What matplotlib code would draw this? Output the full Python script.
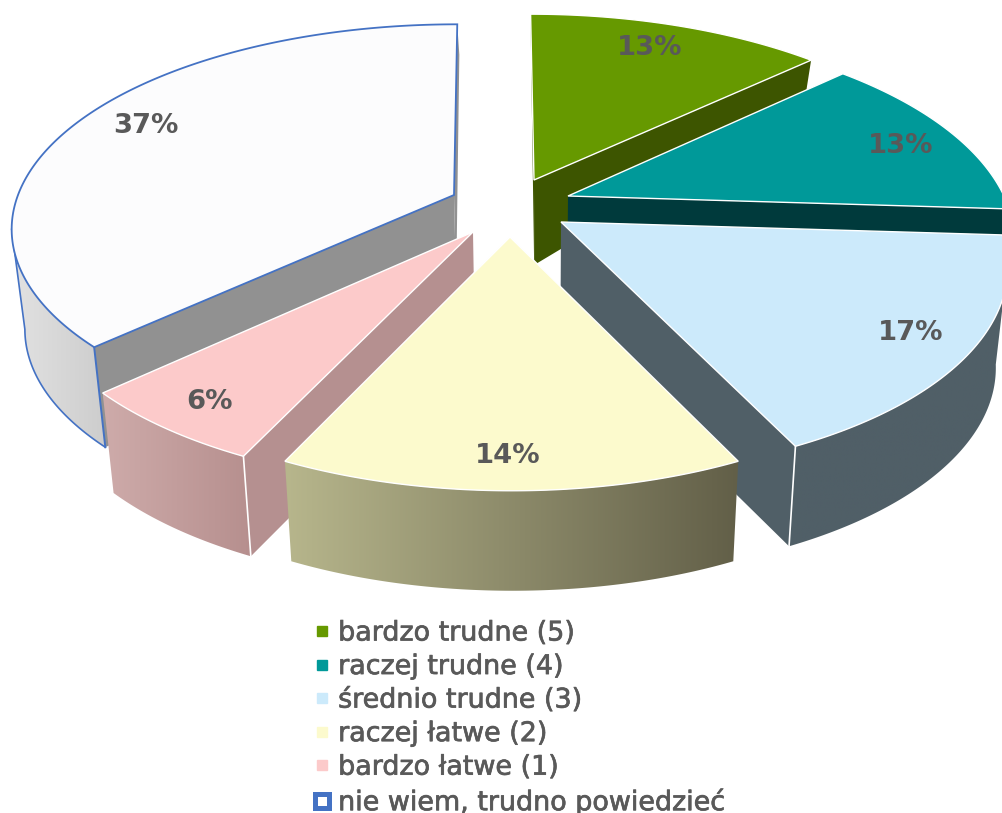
import numpy as np
import matplotlib
matplotlib.use("Agg")
import matplotlib.pyplot as plt
import matplotlib.patheffects as pe
from matplotlib.colors import LinearSegmentedColormap
from matplotlib.patches import Polygon
from matplotlib.lines import Line2D

categories = ["bardzo trudne (5)", "raczej trudne (4)", "średnio trudne (3)",
              "raczej łatwe (2)", "bardzo łatwe (1)", "nie wiem, trudno powiedzieć"]
values = [13, 13, 17, 14, 6, 37]

# styling / layout
top_colors = ["#669900", "#009999", "#CCEAFB", "#FCFACD", "#FCCACA", "#FCFCFD"]
side_colors = ["#3D5500", "#003A3C", "#505F67", "#6A6850", "#B59090", "#919191"]
rim_left = [None, None, "#505F67", "#B7B68C", "#CEABAA", "#E2E2E2"]
rim_right = [None, None, "#505F67", "#625F48", "#B68F8E", "#CDCDCD"]
edge_colors = ["white"] * 5 + ["#4472C4"]
apex = [(534, 180), (568, 196), (561, 222), (510, 237), (473, 232), (454, 195)]
label_pos = [(650, 48), (901, 146), (911, 333), (508, 456), (210, 402), (146, 126)]
draw_order = [0, 5, 1, 2, 4, 3]
A = 436.0
Bs = [199.0, 203.0, 203.0, 203.0, 203.0, 198.0]
Ks = [0.2, 0.2, 0.2, 0.2, 0.2, 0.16]
VANISH_X, SKEW = 497.0, 0.55


def project(theta, i):
    u, v = np.sin(theta), np.cos(theta)
    d = 1 + Ks[i] * v
    cx, cy = apex[i]
    return (cx + A * u / d + SKEW * (cx - VANISH_X) * (1 / d - 1),
            cy - Bs[i] * v / d)


def lower(x, y):
    depth = np.minimum(100.0, 85.0 + 0.35 * (np.asarray(y) - 180.0))
    return 540 + 0.975 * (np.asarray(x) - 540), np.asarray(y) + depth


fig = plt.figure(figsize=(10.03, 8.13), dpi=100)
ax = fig.add_axes([0, 0, 1, 1])
ax.set_xlim(0, 1003)
ax.set_ylim(813, 0)
ax.axis("off")

cum = np.cumsum([0] + values) / sum(values) * 2 * np.pi

z = 1
for i in draw_order:
    t0, t1 = cum[i], cum[i + 1]
    c = apex[i]
    ec = edge_colors[i]
    lw = 1.3 if i == 5 else 1.0
    th = np.linspace(t0, t1, 200)
    xs, ys = project(th, i)
    bx, by = lower(xs, ys)
    abx, aby = lower(c[0], c[1])

    # radial side walls facing the viewer
    if np.sin(t1) > -1e-6:
        ax.add_patch(Polygon([c, (xs[-1], ys[-1]), (bx[-1], by[-1]), (abx, aby)],
                             fc=side_colors[i], ec="none", zorder=z))
    if np.sin(t0) < 1e-6:
        ax.add_patch(Polygon([c, (xs[0], ys[0]), (bx[0], by[0]), (abx, aby)],
                             fc=side_colors[i], ec="none", zorder=z))
    z += 1

    # curved rim, only the part in front of the silhouette
    if rim_left[i] is not None:
        m = np.cos(th) <= -Ks[i]
        tx, ty, lx, ly = xs[m], ys[m], bx[m], by[m]
        poly = np.column_stack([np.r_[tx, lx[::-1]], np.r_[ty, ly[::-1]]])
        x_lo, x_hi = poly[:, 0].min(), poly[:, 0].max()
        y_lo, y_hi = poly[:, 1].min(), poly[:, 1].max()
        cmap = LinearSegmentedColormap.from_list("rim", [rim_left[i], rim_right[i]])
        clip = Polygon(poly, closed=True, transform=ax.transData, fc="none", ec="none")
        ax.add_patch(clip)
        im = ax.imshow(np.linspace(0, 1, 256)[None, :], cmap=cmap, aspect="auto",
                       extent=(x_lo, x_hi, y_hi, y_lo), zorder=z, interpolation="bilinear")
        im.set_clip_path(clip)
        z += 1
        if i in (2, 4):
            k = -1 if i == 2 else 0
            ax.plot([xs[k], bx[k]], [ys[k], by[k]], color="white", lw=1.2, zorder=z)
        if i == 5:
            ax.plot([xs[0], bx[0]], [ys[0], by[0]], color=ec, lw=1.4, zorder=z)
            ax.plot(np.r_[tx[-1], lx[::-1]], np.r_[ty[-1], ly[::-1]], color=ec, lw=1.2, zorder=z)
        z += 1

    # top face
    pts = [c] + list(zip(xs, ys))
    ax.add_patch(Polygon(pts, closed=True, fc=top_colors[i], ec=ec, lw=lw,
                         joinstyle="miter", zorder=z))
    z += 1

ax.set_xlim(0, 1003)
ax.set_ylim(813, 0)

for v, (lx, ly) in zip(values, label_pos):
    ax.text(lx, ly, f"{v}%", ha="center", va="center", fontsize=19.7,
            fontweight="bold", color="#595959", family="DejaVu Sans", zorder=z)

handles = []
for i, name in enumerate(categories):
    if i < 5:
        handles.append(Line2D([], [], ls="none", marker="s", ms=7.2,
                              mfc=top_colors[i], mec=top_colors[i], label=name))
    else:
        handles.append(Line2D([], [], ls="none", marker="s", ms=10.6, mew=3.6,
                              mfc="white", mec="#4472C4", label=name))
leg = ax.legend(handles=handles, loc="upper left", bbox_to_anchor=(308.5, 620.5),
                bbox_transform=ax.transData, frameon=False, fontsize=19.4,
                labelcolor="#595959", handlelength=1.0, handletextpad=0.1,
                labelspacing=0.28, borderpad=0, borderaxespad=0)
leg.set_zorder(z)
for t in leg.get_texts():
    t.set_path_effects([pe.withStroke(linewidth=0.5, foreground="#595959")])

fig.savefig("out.png", dpi=100, facecolor="white")
